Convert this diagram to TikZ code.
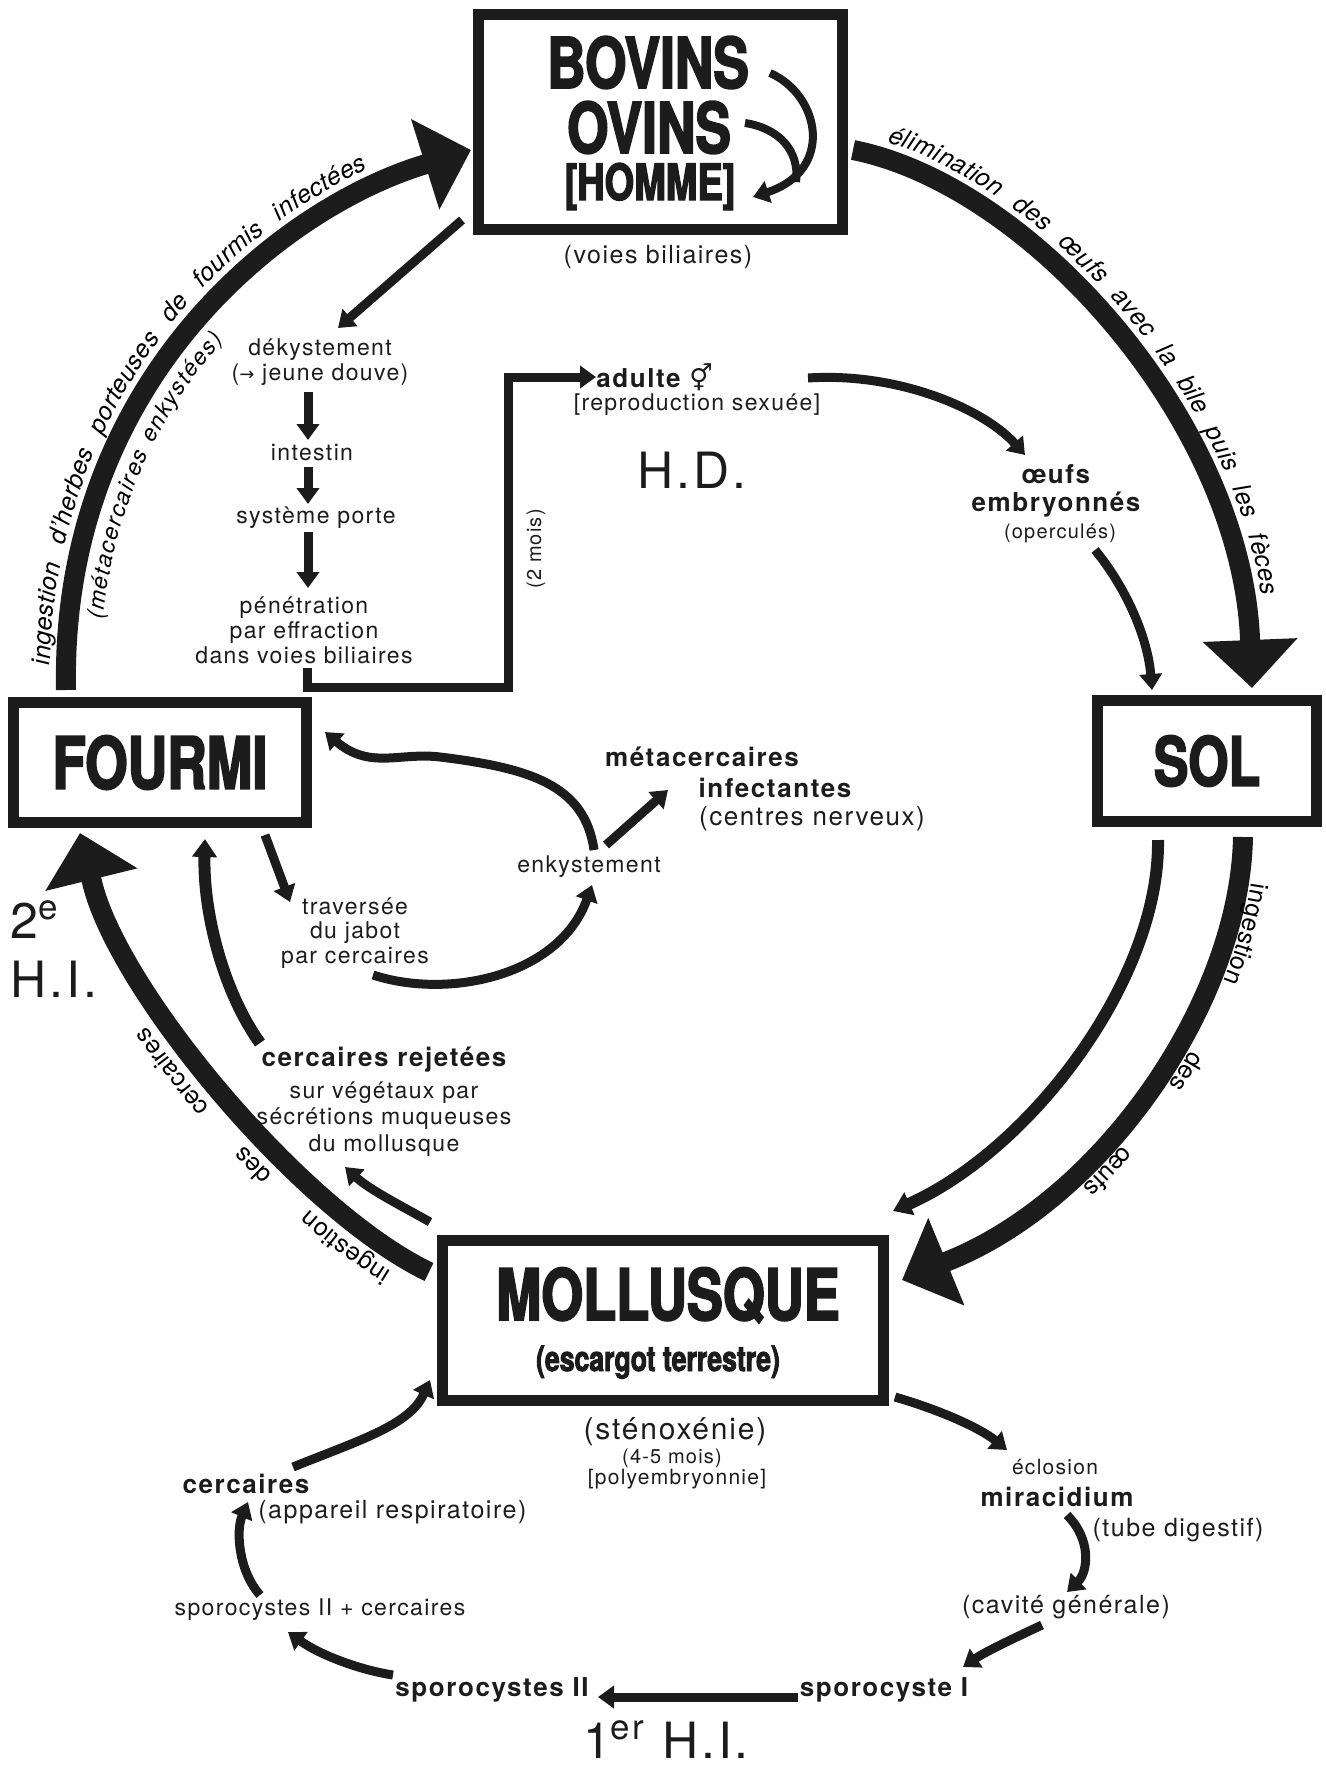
\documentclass[tikz,border=0pt]{standalone}
\usepackage{fontspec}
\setmainfont{TeX Gyre Heros}[LetterSpace=6]
\newfontfamily\titre{texgyreheros-bold.otf}[FakeStretch=0.76,FakeBold=2.5]
\newfontfamily\symb{DejaVu Sans}
\usetikzlibrary{arrows.meta,decorations.text}
\definecolor{encre}{RGB}{28,28,28}
\newcommand{\taille}[2]{\fontsize{#1}{#2}\selectfont}

\begin{document}
\begin{tikzpicture}[x=0.5pt,y=-0.5pt,
  every node/.style={text=encre},
  boite/.style={draw=encre, line width=5.5pt, inner sep=0pt},
  nom/.style={font=\titre\taille{35}{35}, inner sep=0pt},
  petit/.style={font=\taille{11.5}{12.5}, align=center, inner sep=0pt},
  gras/.style={font=\bfseries\taille{13}{14}, align=center, inner sep=0pt},
  grand/.style={font=\taille{25}{26}, inner sep=0pt, anchor=base},
  grosse/.style={draw=encre, line width=10pt, -{Triangle[length=24pt,width=46pt]}},
  moyenne/.style={draw=encre, line width=6pt, -{Triangle[length=9pt,width=12pt]}},
  fleche/.style={draw=encre, line width=4.5pt, -{Triangle[length=8pt,width=11pt]}},
]
\useasboundingbox (0,0) rectangle (1326,1769);

% hotes
\node[boite, minimum width=182pt, minimum height=107.5pt] at (660.5,122) (bovins) {};
\node[nom, anchor=base] at (648,88) (bovinsT) {BOVINS};
\node[nom, anchor=base] at (649,153) (ovinsT) {OVINS};
\node[nom, font=\titre\taille{25}{25}, anchor=base] at (650,200) (hommeT) {[HOMME]};
\node[boite, nom, font=\titre\taille{36}{36}, minimum width=146.5pt, minimum height=60pt] at (160,762.5) (fourmi) {FOURMI};
\node[boite, nom, font=\titre\taille{34}{34}, minimum width=109.5pt, minimum height=60.5pt] at (1207,761) (sol) {SOL};
\node[boite, minimum width=220.5pt, minimum height=80pt] at (663,1320.5) (mollusque) {};
\node[nom, font=\titre\taille{35.5}{36}, anchor=base] at (668,1320) (mollusqueT) {MOLLUSQUE};
\node[nom, font=\titre\taille{17.5}{18}, anchor=base] at (658,1371) (escargot) {(escargot terrestre)};

% textes
\node[petit, font=\taille{12.5}{13}] at (658,257) (voies) {(voies biliaires)};
\node[petit] at (320,362) (deky) {dékystement\\({\symb\taille{9}{9}→} jeune douve)};
\node[petit] at (312,453) (intestin) {intestin};
\node[petit] at (316,518) (porte) {système porte};
\node[petit] at (304,630) (penet) {pénétration\\par effraction\\dans voies biliaires};
\node[gras, anchor=west] at (596,377) (adulte) {adulte {\symb ⚥}};
\node[petit] at (697,405) (repro) {[reproduction sexuée]};
\node[grand] at (692,488) (hd) {H.D.};
\node[petit, font=\taille{10}{10}, rotate=90] at (536,549) (deuxmois) {(2 mois)};
\node[gras] at (1056,491) (oeufs) {œufs\\embryonnés};
\node[petit, font=\taille{10}{10}] at (1060,533) (opercules) {(operculés)};
\node[gras] at (702,757) (metac) {métacercaires};
\node[gras] at (775,788) (infect) {infectantes};
\node[petit, font=\taille{13}{13}] at (812,819) (centres) {(centres nerveux)};
\node[petit] at (589,867) (enky) {enkystement};
\node[petit, font=\taille{11.5}{12.25}] at (355,933) (jabot) {traversée\\du jabot\\par cercaires};
\node[gras] at (384,1060) (rejet) {cercaires rejetées};
\node[petit, font=\taille{11.5}{13.25}] at (384,1119) (vegetaux) {sur végétaux par\\sécrétions muqueuses\\du mollusque};
\node[grand, anchor=base west] at (10,938) (deuxieme) {2\textsuperscript{e}};
\node[grand, anchor=base west] at (10,997) (hi2) {H.I.};
\node[petit, font=\taille{15}{15}] at (675,1432) (stenox) {(sténoxénie)};
\node[petit, font=\taille{10}{10}] at (672,1458) (mois) {(4-5 mois)};
\node[petit, font=\taille{10.5}{10.5}] at (677,1479) (polyem) {[polyembryonnie]};
\node[petit, font=\taille{10.5}{10.5}] at (1055,1467) (eclosion) {éclosion};
\node[gras] at (1057,1497) (miracidium) {miracidium};
\node[petit, font=\taille{12.5}{12.5}] at (1178,1530) (tube) {(tube digestif)};
\node[petit, font=\taille{12.5}{12.5}] at (1066,1607) (cavite) {(cavité générale)};
\node[gras] at (884,1690) (sporoI) {sporocyste I};
\node[gras] at (492,1690) (sporoII) {sporocystes II};
\node[petit] at (320,1610) (sporoIIc) {sporocystes II + cercaires};
\node[gras] at (246,1484) (cercaires) {cercaires};
\node[petit, font=\taille{12.5}{12.5}, anchor=west] at (258,1512) (appareil) {(appareil respiratoire)};
\node[grand] at (666,1758) (hi1) {1\textsuperscript{er} H.I.};

% extremites des grands arcs (base de la pointe, puis pointe)
\coordinate (fourmiHaut) at (66,690);
\coordinate (bovinsBase) at (423,165);
\coordinate (bovinsG) at (471,150);
\coordinate (bovinsD) at (853,150);
\coordinate (solBase) at (1250,638);
\coordinate (solHaut) at (1252,688);
\coordinate (solBas) at (1243,837);
\coordinate (mollBase) at (948,1261);
\coordinate (mollD) at (902,1280);
\coordinate (solBas2) at (1158,840);
\coordinate (mollHD) at (893,1211);
\coordinate (mollG) at (429,1272);
\coordinate (fourmiBase) at (92,882);
\coordinate (fourmiBas) at (80,833);

% cycle principal
\draw[grosse] (fourmiHaut) .. controls (60,380) and (283,208) .. (bovinsBase) -- (bovinsG);
\draw[grosse] (bovinsD) .. controls (1030,185) and (1240,420) .. (solBase) -- (solHaut);
\draw[grosse] (solBas) .. controls (1240,1000) and (1105,1198) .. (mollBase) -- (mollD);
\draw[moyenne] (solBas2) .. controls (1160,980) and (1030,1150) .. (mollHD);
\draw[grosse] (mollG) .. controls (300,1210) and (117,989) .. (fourmiBase) -- (fourmiBas);

\path[decorate, decoration={text along path, raise=8pt,
  text align={fit to path stretching spaces, left indent=12pt, right indent=26pt},
  text={|\itshape\taille{12.5}{12.5}|ingestion d'herbes porteuses de fourmis infectées}}]
  (fourmiHaut) .. controls (60,380) and (283,208) .. (bovinsBase);
\path[decorate, decoration={text along path, raise=-17pt,
  text align={fit to path, left indent=37pt, right indent=138pt},
  text={|\itshape\taille{11.5}{11.5}|(métacercaires enkystées)}}]
  (fourmiHaut) .. controls (60,380) and (283,208) .. (bovinsBase);
\path[decorate, decoration={text along path, raise=8pt,
  text align={fit to path stretching spaces, left indent=15pt, right indent=20pt},
  text={|\itshape\taille{12.5}{12.5}|élimination des œufs avec la bile puis les fèces}}]
  (bovinsD) .. controls (1030,185) and (1240,420) .. (solBase);
\path[decorate, decoration={text along path, raise=6pt,
  text align={fit to path stretching spaces, left indent=22pt, right indent=76pt},
  text={|\taille{12.5}{12.5}|ingestion des œufs}}]
  (solBas) .. controls (1240,1000) and (1105,1198) .. (mollBase);
\path[decorate, decoration={text along path, raise=9pt,
  text align={fit to path stretching spaces, left indent=16pt, right indent=76pt},
  text={|\taille{12.5}{12.5}|ingestion des cercaires}}]
  (mollG) .. controls (300,1210) and (117,989) .. (fourmiBase);

% hote definitif
\coordinate (bovBoucle1) at (770,73);
\coordinate (bovBoucleFin) at (753,197);
\coordinate (bovBoucle2) at (745,123);
\coordinate (bovBoucleJoint) at (796,182);
\draw[fleche, line width=4pt] (bovBoucle1) .. controls (820,95) and (835,170) .. (bovBoucleFin);
\draw[draw=encre, line width=4pt] (bovBoucle2) .. controls (778,128) and (800,150) .. (bovBoucleJoint);

\coordinate (bovinsBG) at (462,220);
\coordinate (dekyHaut) at (338,328);
\coordinate (d1a) at (308,392);
\coordinate (d1b) at (308,440);
\coordinate (d2a) at (308,467);
\coordinate (d2b) at (308,504);
\coordinate (d3a) at (308,532);
\coordinate (d3b) at (308,588);
\coordinate (penetBas) at (307,668);
\coordinate (coinBas) at (508,687);
\coordinate (oeufsDep) at (808,378);
\coordinate (oeufsArr) at (1025,455);
\coordinate (operDep) at (1095,550);
\coordinate (solHaut2) at (1152,690);

\draw[fleche] (bovinsBG) -- (dekyHaut);
\draw[fleche] (d1a) -- (d1b);
\draw[fleche] (d2a) -- (d2b);
\draw[fleche] (d3a) -- (d3b);
\draw[fleche] (penetBas) |- (coinBas) |- (adulte.west);
\draw[fleche] (oeufsDep) .. controls (900,372) and (985,410) .. (oeufsArr);
\draw[fleche] (operDep) .. controls (1128,590) and (1148,640) .. (solHaut2);

% deuxieme hote intermediaire
\coordinate (enkyHaut) at (594,850);
\coordinate (fourmiD) at (325,732);
\coordinate (enkyDroite) at (606,845);
\coordinate (metacBas) at (668,790);
\coordinate (fourmiB2) at (265,835);
\coordinate (jabotHaut) at (290,902);
\coordinate (jabotBas) at (373,975);
\coordinate (enkyBas) at (592,885);
\coordinate (rejetHaut) at (260,1043);
\coordinate (fourmiB1) at (205,839);
\coordinate (mollHG) at (430,1222);
\coordinate (vegetBas) at (345,1167);

\draw[fleche] (enkyHaut) .. controls (585,785) and (530,768) .. (440,757)
  .. controls (400,752) and (370,770) .. (fourmiD);
\draw[fleche] (enkyDroite) -- (metacBas);
\draw[fleche] (fourmiB2) -- (jabotHaut);
\draw[fleche] (jabotBas) .. controls (450,1000) and (560,975) .. (enkyBas);
\draw[moyenne] (rejetHaut) .. controls (222,990) and (203,910) .. (fourmiB1);
\draw[fleche] (mollHG) .. controls (400,1205) and (370,1190) .. (vegetBas);

% premier hote intermediaire
\coordinate (mollBD) at (895,1397);
\coordinate (eclosHaut) at (1007,1450);
\coordinate (miracBas) at (1067,1515);
\coordinate (caviteHaut) at (1067,1592);
\coordinate (caviteBas) at (1042,1625);
\coordinate (sporoIHaut) at (963,1667);
\coordinate (sporoIG) at (798,1697);
\coordinate (sporoIID) at (598,1697);
\coordinate (sporoIIG) at (393,1675);
\coordinate (sporoIIcBas) at (288,1632);
\coordinate (sporoIIcHaut) at (260,1595);
\coordinate (cercBas) at (248,1502);
\coordinate (cercD) at (293,1467);
\coordinate (mollBG) at (430,1380);

\draw[fleche] (mollBD) .. controls (940,1410) and (980,1428) .. (eclosHaut);
\draw[fleche] (miracBas) .. controls (1092,1540) and (1088,1572) .. (caviteHaut);
\draw[fleche] (caviteBas) .. controls (1010,1640) and (985,1652) .. (sporoIHaut);
\draw[fleche] (sporoIG) -- (sporoIID);
\draw[fleche] (sporoIIG) .. controls (360,1670) and (320,1655) .. (sporoIIcBas);
\draw[fleche] (sporoIIcHaut) .. controls (238,1570) and (236,1530) .. (cercBas);
\draw[fleche] (cercD) .. controls (360,1440) and (410,1425) .. (mollBG);
\end{tikzpicture}
\end{document}
